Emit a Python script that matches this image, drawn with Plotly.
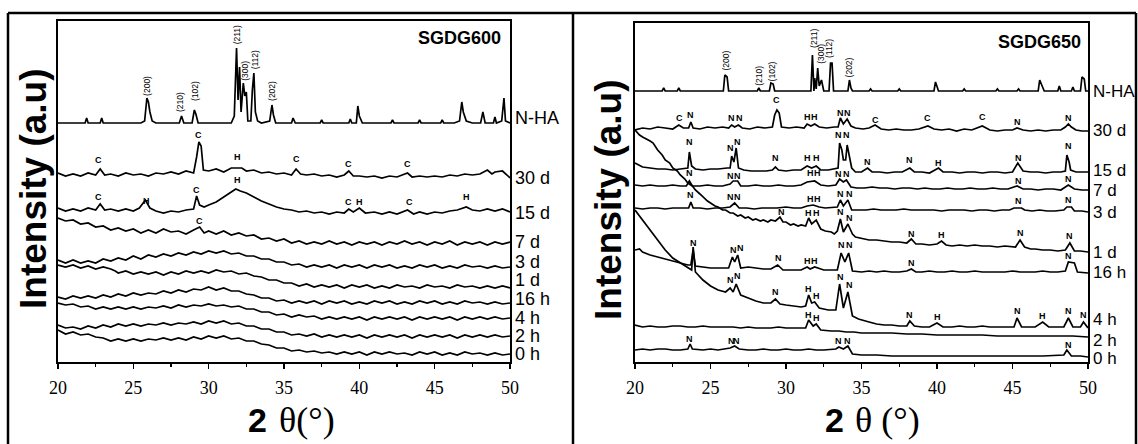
import plotly.graph_objects as go

W, H = 1138, 444

# ---------------- data: (2theta, intensity a.u.) ----------------
# SGDG600 panel
nha_600 = [(20,239),(20.5,239),(21,239),(21.5,239),(21.8,239),(21.9,244),(22.0,239),(22.5,239),(22.8,239),(22.9,244),(23.0,239),
           (23.5,239),(24,239),(24.5,239),(25,239),(25.5,239),(25.75,241),(25.9,264),(26.0,260),(26.1,250),(26.25,241),(26.5,239),
           (27,239),(27.5,239),(28.05,239),(28.2,246),(28.35,239),(28.9,239),(29.05,252),(29.15,248),(29.3,239),(29.5,239),(30,239),
           (30.5,239),(31,239),(31.5,239),(31.7,246),(31.85,314),(31.95,262),(32.05,295),(32.15,250),(32.3,279),(32.4,266),(32.5,270),
           (32.6,241),(32.8,241),(32.9,272),(33.0,289),(33.1,250),(33.25,241),(33.5,239),(34.05,241),(34.2,257),(34.3,247),(34.45,239),
           (35,239),(35.5,239),(35.6,244),(35.75,239),(36.5,239),(37.4,239),(37.5,242),(37.6,239),(38.5,239),(39.3,239),(39.4,243),
           (39.5,239),(39.8,239),(39.9,256),(40.0,246),(40.2,239),(41,239),(42.1,239),(42.2,242),(42.3,239),(43,239),(43.9,239),
           (44.0,242),(44.1,239),(45,239),(45.4,239),(45.5,242),(45.6,239),(46.3,239),(46.65,241),(46.8,260),(46.9,250),(47.1,241),
           (47.5,239),(48.05,239),(48.2,250),(48.35,239),(48.9,239),(49.0,245),(49.1,239),(49.45,241),(49.6,264),(49.7,241),(50,239)]
d30_600 = [(20,189),(20.5,186),(21,188),(21.5,186),(22,189),(22.5,187),(22.8,193),(23.1,187),(23.5,188),(24,186),(24.5,189),(25,187),
           (25.5,188),(26,186),(26.5,189),(27,188),(27.5,190),(28,188),(28.5,191),(29.0,189),(29.2,205),(29.35,220),(29.5,216),
           (29.65,192),(30,191),(30.5,193),(31,190),(31.5,194),(31.7,194),(32.2,194),(32.5,191),(33,192),(33.5,189),(34,190),
           (34.5,188),(35,189),(35.5,187),(35.8,193),(36.1,188),(36.5,187),(37,188),(37.5,186),(38,187),(38.5,185),(39,187),
           (39.3,191),(39.6,186),(40,186),(40.5,185),(41,186),(41.5,184),(42,186),(42.5,185),(43.2,189),(43.5,185),(44,186),
           (44.5,185),(45,186),(45.5,185),(46,187),(46.5,186),(47,188),(47.5,187),(48,188),(48.5,192),(48.8,188),(49,190),
           (49.5,191),(49.8,187),(50,184)]
d15_600 = [(20,154),(20.5,151),(21,153),(21.5,151),(22,154),(22.5,152),(22.8,158),(23.1,152),(23.5,153),(24,151),(24.5,153),(25,151),
           (25.4,154),(25.8,162),(26.1,154),(26.5,151),(27,149),(27.5,151),(28,150),(28.5,152),(29.0,153),(29.2,166),(29.4,157),
           (29.7,155),(30,157),(30.5,160),(31,165),(31.5,170),(31.8,173),(32.1,171),(32.5,169),(33,165),(33.5,161),(34,158),
           (34.5,155),(35,153),(35.5,152),(36,150),(36.5,151),(37,149),(37.5,150),(38,148),(38.5,150),(39,149),(39.3,153),
           (39.6,150),(40.0,154),(40.4,149),(41,150),(41.5,148),(42,150),(42.5,148),(43.2,152),(43.6,148),(44,150),(44.5,148),
           (45,150),(45.5,149),(46,151),(46.5,152),(47.1,155),(47.5,152),(48,151),(48.5,153),(49,151),(49.5,153),(50,150)]
d7_600 = [(20,144),(20.5,141),(21,142),(21.5,138),(22,139),(22.5,135),(23,136),(23.5,132),(24,134),(24.5,131),(25,133),(25.5,129),
          (26,132),(26.5,129),(27,133),(27.5,130),(28,131),(28.5,128),(29,132),(29.4,135),(29.7,129),(30,131),(30.5,128),(31,131),
          (31.5,127),(32,129),(32.5,126),(33,127),(33.5,123),(34,124),(34.5,121),(35,123),(35.5,119),(36,121),(36.5,118),(37,120),
          (37.5,118),(38,121),(38.5,118),(39,120),(39.5,117),(40,120),(40.5,118),(41,120),(41.5,117),(42,120),(42.5,118),(43,121),
          (43.5,118),(44,120),(44.5,117),(45,120),(45.5,118),(46,121),(46.5,117),(47,120),(47.5,118),(48,120),(48.5,117),(49,120),
          (49.5,118),(50,120)]
d3_600 = [(20,102),(20.5,99),(21,102),(21.5,99),(22,101),(22.5,99),(23,103),(23.5,101),(24,104),(24.5,102),(25,106),(25.5,103),
          (26,107),(26.5,105),(27,108),(27.5,106),(28,109),(28.5,107),(29,110),(29.5,108),(30,111),(30.5,109),(31,111),(31.5,108),
          (32,109),(32.5,106),(33,106),(33.5,103),(34,103),(34.5,100),(35,100),(35.5,97),(36,98),(36.5,95),(37,97),(37.5,95),
          (38,97),(38.5,94),(39,97),(39.5,95),(40,97),(40.5,94),(41,97),(41.5,95),(42,97),(42.5,94),(43,96),(43.5,94),(44,97),
          (44.5,95),(45,97),(45.5,94),(46,96),(46.5,94),(47,97),(47.5,95),(48,96),(48.5,94),(49,96),(49.5,94),(50,95)]
d1_600 = [(20,97),(20.5,95),(21,97),(21.5,94),(22,96),(22.5,93),(23,95),(23.5,93),(23.8,91),(24,89),(24.5,91),(25,88),(25.5,90),
          (26,88),(26.5,90),(27,87),(27.5,90),(28,88),(28.5,91),(29,89),(29.5,91),(30,89),(30.5,92),(31,90),(31.5,91),(32,88),
          (32.5,89),(33,86),(33.5,85),(34,82),(34.5,82),(35,79),(35.5,79),(36,76),(36.5,78),(37,75),(37.5,77),(38,75),(38.5,77),
          (39,74),(39.5,77),(40,75),(40.5,77),(41,74),(41.5,76),(42,74),(42.5,77),(43,75),(43.5,76),(44,74),(44.5,77),(45,75),
          (45.5,76),(46,74),(46.5,77),(47,75),(47.5,76),(48,74),(48.5,76),(49,74),(49.5,76),(50,74)]
h16_600 = [(20,65),(20.5,63),(21,66),(21.5,64),(22,66),(22.5,64),(23,67),(23.5,65),(24,68),(24.5,66),(25,69),(25.5,67),(26,69),
           (26.5,68),(27,71),(27.5,69),(28,72),(28.5,70),(29,73),(29.5,72),(30,75),(30.5,72),(31,74),(31.5,71),(32,71),(32.5,68),
           (33,67),(33.5,64),(34,64),(34.5,61),(35,62),(35.5,59),(36,61),(36.5,59),(37,61),(37.5,58),(38,61),(38.5,59),(39,61),
           (39.5,58),(40,60),(40.5,58),(41,61),(41.5,59),(42,61),(42.5,58),(43,60),(43.5,58),(44,61),(44.5,59),(45,61),(45.5,58),
           (46,60),(46.5,58),(47,61),(47.5,59),(48,60),(48.5,58),(49,60),(49.5,58),(50,59)]
h4_600 = [(20,59),(20.5,57),(21,58),(21.5,55),(22,56),(22.5,53),(23,55),(23.5,53),(24,55),(24.5,53),(25,55),(25.5,53),(26,55),
          (26.5,54),(27,56),(27.5,54),(28,57),(28.5,55),(29,57),(29.5,56),(30,58),(30.5,56),(31,57),(31.5,55),(32,56),(32.5,53),
          (33,53),(33.5,50),(34,50),(34.5,47),(35,48),(35.5,45),(36,47),(36.5,45),(37,46),(37.5,43),(38,45),(38.5,43),(39,45),
          (39.5,43),(40,45),(40.5,42),(41,45),(41.5,43),(42,45),(42.5,43),(43,45),(43.5,42),(44,45),(44.5,43),(45,45),(45.5,43),
          (46,45),(46.5,42),(47,45),(47.5,43),(48,45),(48.5,43),(49,45),(49.5,43),(50,44)]
h2_600 = [(20,37),(20.5,34),(21,35),(21.5,33),(22,36),(22.5,34),(23,37),(23.5,35),(24,38),(24.5,36),(25,38),(25.5,36),(26,38),
          (26.5,37),(27,39),(27.5,37),(28,39),(28.5,38),(29,40),(29.5,38),(30,41),(30.5,39),(31,41),(31.5,38),(32,39),(32.5,36),
          (33,36),(33.5,33),(34,33),(34.5,30),(35,30),(35.5,27),(36,28),(36.5,26),(37,28),(37.5,25),(38,27),(38.5,25),(39,27),
          (39.5,25),(40,27),(40.5,24),(41,27),(41.5,25),(42,27),(42.5,25),(43,27),(43.5,24),(44,27),(44.5,25),(45,27),(45.5,25),
          (46,27),(46.5,24),(47,27),(47.5,25),(48,27),(48.5,25),(49,27),(49.5,25),(50,26)]
h0_600 = [(20,32),(20.5,28),(21,30),(21.5,27),(22,28),(22.5,25),(23,24),(23.5,21),(24,23),(24.5,21),(25,23),(25.5,21),(26,23),
          (26.5,22),(27,24),(27.5,22),(28,24),(28.5,22),(29,25),(29.5,23),(30,26),(30.5,24),(31,26),(31.5,23),(32,24),(32.5,21),
          (33,21),(33.5,18),(34,17),(34.5,14),(35,14),(35.5,11),(36,12),(36.5,10),(37,11),(37.5,9),(38,10),(38.5,8),(39,10),
          (39.5,8),(40,10),(40.5,7),(41,10),(41.5,8),(42,10),(42.5,8),(43,9),(43.5,7),(44,10),(44.5,8),(45,10),(45.5,7),(46,9),
          (46.5,7),(47,10),(47.5,8),(48,9),(48.5,7),(49,9),(49.5,7),(50,8)]

# SGDG650 panel
nha_650 = [(20,271),(21.8,271),(21.9,274),(22.0,271),(22.8,271),(22.9,274),(23.0,271),(25.85,271),(25.95,287),(26.1,285),(26.2,271),
           (28.1,271),(28.2,274),(28.3,271),(28.9,271),(29.0,279),(29.15,278),(29.25,271),(31.65,271),(31.75,307),(31.85,271),
           (31.9,284),(32.0,273),(32.1,294),(32.2,276),(32.35,282),(32.5,271),(32.85,271),(32.95,299),(33.05,299),(33.15,271),
           (34.1,271),(34.2,282),(34.3,274),(34.4,271),(35.5,271),(35.6,273),(35.7,271),(37.4,271),(37.5,273),(37.6,271),(39.8,271),
           (39.9,280),(40.0,275),(40.1,271),(41.7,271),(41.8,273),(41.9,271),(43.9,271),(44.0,273),(44.1,271),(45.3,271),(45.4,273),
           (45.5,271),(46.7,271),(46.8,282),(46.95,276),(47.1,271),(48.0,271),(48.1,276),(48.2,271),(48.9,271),(49.0,275),(49.1,271),
           (49.5,271),(49.6,285),(49.75,283),(49.85,271),(50,271)]
d30_650 = [(20,232),(20.5,234),(21,233),(21.5,235),(22,234),(22.5,233),(22.9,237),(23.2,234),(23.55,234),(23.7,240),(23.85,234),
           (24.3,233),(24.8,235),(25.3,234),(25.8,235),(26.2,234),(26.4,237),(26.6,235),(26.85,237),(27.1,234),(27.6,233),(28.1,235),
           (28.6,234),(29.1,235),(29.25,247),(29.4,252),(29.55,249),(29.7,235),(30.2,234),(30.7,235),(31.2,234),(31.4,238),
           (31.65,236),(31.9,238),(32.2,235),(32.7,234),(33.2,235),(33.45,235),(33.6,244),(33.8,238),(34.05,243),(34.3,236),
           (34.6,234),(35.1,233),(35.5,234),(35.9,237),(36.3,233),(36.8,232),(37.3,233),(37.8,232),(38.3,232),(38.8,233),(39.4,236),
           (39.8,233),(40.3,232),(40.8,233),(41.3,231),(41.8,233),(42.3,232),(43.0,236),(43.5,232),(44,231),(44.5,232),(45.0,232),
           (45.3,234),(45.7,232),(46.2,231),(46.7,232),(47.2,231),(47.7,232),(48.2,232),(48.5,235),(48.7,238),(48.9,235),(49.2,232),
           (49.6,231),(50,231)]
d15_650 = [(20,199),(20.5,195),(21,194),(21.5,193),(22,193),(22.5,192),(23,193),(23.5,194),(23.6,210),(23.75,196),(24,193),(24.5,192),
           (25,193),(25.5,193),(26.1,194),(26.3,194),(26.4,206),(26.55,200),(26.7,214),(26.85,194),(27.2,192),(27.7,191),(28.2,191),
           (28.7,191),(29.1,192),(29.3,195),(29.5,192),(30,191),(30.5,192),(31,192),(31.4,196),(31.7,194),(32.0,196),(32.3,192),
           (32.8,192),(33.3,194),(33.45,194),(33.55,219),(33.7,212),(33.8,202),(33.95,202),(34.05,217),(34.2,204),(34.35,194),
           (34.6,190),(35,190),(35.4,194),(35.7,190),(36.2,190),(36.7,189),(37.2,190),(37.7,190),(38.2,194),(38.5,190),(39,190),
           (39.5,189),(40.1,194),(40.4,190),(41,190),(41.5,189),(42,190),(42.5,190),(43,189),(43.5,190),(44,190),(44.5,189),
           (45.0,190),(45.35,199),(45.7,191),(46.2,190),(46.7,190),(47.2,189),(47.7,190),(48.2,190),(48.5,191),(48.6,207),
           (48.75,200),(48.85,192),(49.2,190),(49.6,190),(50,190)]
d7_650 = [(20,177),(20.5,176),(21,177),(21.5,176),(22,176),(22.5,177),(23,176),(23.4,176),(23.6,181),(23.8,176),(24.3,176),(24.8,177),
          (25.3,176),(25.8,176),(26.3,178),(26.5,181),(26.8,181),(27,176),(27.5,176),(28,177),(28.5,176),(29,176),(29.5,177),(30,176),
          (30.5,176),(31,177),(31.4,180),(31.9,181),(32.3,177),(32.8,176),(33.3,177),(33.55,183),(33.8,180),(34.0,182),(34.3,175),
          (34.7,174),(35.2,174),(35.7,175),(36.2,174),(36.7,174),(37.2,173),(37.7,174),(38.2,174),(38.7,173),(39.2,174),(39.7,173),
          (40.2,173),(40.7,174),(41.2,173),(41.7,173),(42.2,174),(42.7,173),(43.2,173),(43.7,174),(44.2,173),(44.7,173),(45.3,176),
          (45.7,173),(46.2,173),(46.7,172),(47.2,173),(47.7,173),(48.2,172),(48.7,177),(49.1,173),(49.6,172),(50,172)]
d3_650 = [(20,154),(20.5,153),(21,154),(21.5,154),(22,153),(22.5,154),(23,154),(23.55,154),(23.7,160),(23.85,154),(24.3,154),(24.8,153),
          (25.3,154),(25.8,154),(26.3,155),(26.6,159),(26.9,154),(27.4,154),(27.9,153),(28.4,154),(28.9,154),(29.4,154),(30,155),
          (30.5,154),(31,154),(31.4,156),(31.8,157),(32.2,155),(32.6,154),(33.1,155),(33.4,155),(33.6,162),(33.8,156),(34.1,162),
          (34.35,152),(34.8,152),(35.3,152),(35.8,153),(36.3,152),(36.8,152),(37.3,152),(37.8,153),(38.3,152),(38.8,152),(39.3,152),
          (39.8,152),(40.3,151),(40.8,152),(41.3,152),(41.8,152),(42.3,151),(42.8,152),(43.3,152),(43.8,151),(44.3,152),(44.8,152),
          (45.1,154),(45.6,154),(45.8,152),(46.3,151),(46.8,152),(47.3,151),(47.8,151),(48.4,152),(48.6,155),(48.9,155),(49.1,151),
          (49.6,151),(50,150)]
d1_650 = [(20,232),(20.3,227),(20.5,225),(20.8,223),(21.0,221),(21.2,219),(21.5,212),(21.8,207),(22.0,202),(22.3,199),(22.5,194),
          (22.8,191),(23.0,187),(23.3,183),(23.5,179),(23.8,176),(24.0,172),(24.3,168),(24.5,165),(24.8,161),(25.0,159),(25.3,156),
          (25.5,155),(25.8,152),(26.0,152),(26.3,149),(26.5,149),(26.8,146),(27.0,147),(27.3,144),(27.5,145),(27.8,142),(28.0,143),
          (28.3,141),(28.5,142),(28.8,140),(29.0,142),(29.3,141),(29.6,145),(29.8,140),(30.0,140),(30.3,137),(30.5,138),(30.8,136),
          (31.0,137),(31.3,136),(31.5,144),(31.7,138),(32.0,142),(32.3,133),(32.6,131),(33.0,130),(33.2,128),(33.4,131),(33.6,143),
          (33.8,130),(34.1,138),(34.4,128),(34.6,125),(35.0,124),(35.5,122),(36.0,122),(36.5,121),(37.0,120),(37.5,120),(38.0,119),
          (38.3,123),(38.6,118),(39.0,118),(39.5,117),(40.0,118),(40.3,121),(40.6,117),(41,116),(41.5,117),(42,116),(42.5,117),(43,116),
          (43.5,116),(44,115),(44.5,116),(45.2,115),(45.5,122),(45.8,115),(46.2,113),(46.5,113),(47.0,112),(47.5,112),(48.0,111),
          (48.5,112),(48.8,119),(49.1,111),(49.5,111),(50,110)]
h16_650 = [(20,112),(20.3,113),(20.5,110),(21,107),(21.5,105),(22,103),(22.5,101),(23,99),(23.5,97),(23.7,97),(23.85,112),(24.0,96),
           (24.5,95),(25,94),(25.5,94),(26.2,94),(26.45,105),(26.6,100),(26.8,107),(27.0,94),(27.5,95),(28,94),(28.5,93),(29.0,93),
           (29.45,97),(29.8,92),(30.5,92),(31.0,92),(31.4,95),(31.6,93),(31.9,95),(32.5,92),(33.0,92),(33.4,92),(33.65,109),(33.9,100),
           (34.15,109),(34.4,91),(35,90),(35.5,91),(36,90),(36.5,91),(37,90),(37.5,90),(38.0,91),(38.3,93),(38.6,90),(39,90),(39.5,91),
           (40,90),(40.5,90),(41,91),(41.5,90),(42,90),(42.5,91),(43,90),(43.5,90),(44,90),(44.5,90),(45,91),(45.5,90),(46,90),
           (46.5,90),(47,91),(47.5,90),(48,90),(48.5,91),(48.7,100),(49.1,99),(49.3,90),(50,89)]
h4_650 = [(20,152),(20.5,142),(21.0,132),(21.5,122),(22.0,112),(22.5,104),(23.0,99),(23.5,94),(23.75,92),(23.85,115),(24.0,90),
          (24.5,82),(25.0,76),(25.5,72),(26.0,70),(26.3,74),(26.5,70),(26.7,78),(27.0,67),(27.5,64),(28.0,61),(28.5,59),(29.0,59),
          (29.3,63),(29.6,58),(30.0,57),(30.5,56),(31.0,55),(31.3,56),(31.5,67),(31.7,59),(31.9,60),(32.2,54),(32.8,52),(33.3,52),
          (33.55,78),(33.8,54),(34.1,70),(34.4,46),(34.8,43),(35.5,40),(36.0,38),(36.5,37),(37.0,37),(37.5,36),(38.0,36),(38.2,41),
          (38.5,36),(39.0,35),(39.5,35),(40.0,39),(40.4,35),(41,35),(41.5,36),(42,35),(42.5,35),(43,36),(43.5,35),(44,35),(44.5,35),
          (45.1,35),(45.3,44),(45.6,35),(46,35),(46.5,35),(47.0,40),(47.4,35),(47.9,35),(48.4,35),(48.7,44),(49.0,35),(49.5,35),
          (49.7,40),(50,34)]
h2_650 = [(20,37),(20.5,35),(21,36),(21.5,35),(22,35),(22.5,36),(23,36),(23.5,35),(24,35),(24.5,36),(25,35),(25.5,35),(26,35),
          (26.5,35),(27,34),(27.5,35),(28,34),(28.5,34),(29,34),(29.5,35),(30,34),(30.5,34),(31,34),(31.3,34),(31.5,42),(31.8,36),
          (32.0,38),(32.3,32),(33,31),(33.5,31),(34,30),(34.5,30),(35,29),(36,29),(37,29),(38,28),(39,28),(40,27),(41,27),(42,27),
          (43,27),(44,26),(45,26),(46,26),(47,26),(48,26),(49,26),(50,25)]
h0_650 = [(20,12),(20.5,13),(21,12),(21.5,13),(22,13),(22.5,12),(23,12),(23.5,13),(23.65,18),(23.8,13),(24.5,12),(25,13),(25.5,12),
          (26.3,14),(26.6,16),(26.9,13),(27.5,12),(28,12),(28.5,13),(29,12),(29.5,12),(30,13),(30.5,12),(31,12),(31.5,13),(32,12),
          (32.5,12),(33.3,13),(33.5,15),(33.8,13),(34.1,16),(34.4,8),(35,7),(35.5,7),(36,7),(37,6),(38,6),(39,6),(40,6),(41,6),(42,6),
          (43,6),(44,6),(45,6),(46,6),(47,6),(48.4,7),(48.6,12),(48.9,6),(49.5,6),(50,5)]

series_labels = ["N-HA", "30 d", "15 d", "7 d", "3 d", "1 d", "16 h", "4 h", "2 h", "0 h"]
left_series = [nha_600, d30_600, d15_600, d7_600, d3_600, d1_600, h16_600, h4_600, h2_600, h0_600]
right_series = [nha_650, d30_650, d15_650, d7_650, d3_650, d1_650, h16_650, h4_650, h2_650, h0_650]
left_label_level = [244, 184, 149, 120, 100, 82, 63, 44, 26, 8]
right_label_level = [271, 232, 192, 172, 150, 110, 90, 43, 22, 4]

miller = ["(200)", "(210)", "(102)", "(211)", "(300)", "(112)", "(202)"]
miller_left = [(25.9, 276), (28.1, 260), (29.1, 271), (31.9, 327), (32.4, 291), (33.1, 302), (34.2, 271)]
miller_right = [(26.0, 301), (28.2, 286), (29.1, 291), (31.85, 324), (32.3, 308), (32.85, 313), (34.2, 295)]

phase_left = [("C",22.7,202),("C",29.35,227),("H",31.9,205),("C",35.8,203),("C",39.3,198),("C",43.2,198),
              ("C",22.7,165),("H",25.9,161),("C",29.2,172),("H",31.9,182),("C",39.3,160),("H",40.0,160),("C",43.3,160),("H",47.1,165),
              ("C",29.4,141)]
phase_right = [("C",22.95,244),("N",23.7,247),("N",26.4,244),("N",26.9,244),("C",29.4,262),("H",31.4,245),("H",31.9,245),
               ("N",33.6,249),("N",34.1,249),("C",35.9,242),("C",39.4,244),("C",43.0,245),("N",45.3,240),("N",48.7,244),
               ("N",23.6,220),("N",26.3,214),("N",26.8,220),("N",29.3,204),("H",31.4,204),("H",32.0,204),("N",33.5,227),("N",34.0,227),
               ("N",35.4,200),("N",38.2,202),("H",40.1,199),("N",45.4,204),("N",48.7,216),
               ("N",23.6,189),("N",26.3,186),("N",26.8,186),("H",31.6,189),("H",32.1,189),("N",33.5,188),("N",34.0,188),
               ("N",45.4,181),("N",48.7,183),
               ("N",23.7,167),("N",26.3,165),("N",26.8,165),("H",31.6,163),("H",32.1,163),("N",33.6,168),("N",34.2,168),
               ("N",45.4,161),("N",48.7,162),
               ("N",29.7,150),("H",31.5,149),("H",32.0,149),("N",33.6,150),("N",34.2,144),("N",38.3,128),("H",40.3,127),
               ("N",45.5,129),("N",48.8,126),
               ("N",23.9,119),("N",26.5,112),("N",27.0,114),("N",29.5,104),("H",31.4,101),("H",31.9,101),("N",33.7,117),("N",34.2,117),
               ("N",38.3,99),("N",48.7,106),
               ("N",26.3,82),("N",26.8,86),("N",29.3,70),("H",31.5,73),("H",32.0,66),("N",33.6,85),("N",34.2,77),("N",38.2,47),
               ("H",40.0,45),("N",45.3,51),("H",47.0,46),("N",48.7,51),("N",49.7,47),
               ("H",31.5,47),("H",32.0,44),
               ("N",23.6,23),("N",26.4,21),("N",26.7,21),("N",33.5,21),("N",34.1,21),("N",48.7,17)]

# ---------------- figure ----------------
fig = go.Figure()
LINE = dict(color="black", width=1.7)
for pts in left_series:
    fig.add_trace(go.Scatter(x=[p[0] for p in pts], y=[p[1] for p in pts], mode="lines", line=LINE,
                             xaxis="x", yaxis="y", showlegend=False, hoverinfo="skip"))
for pts in right_series:
    fig.add_trace(go.Scatter(x=[p[0] for p in pts], y=[p[1] for p in pts], mode="lines", line=LINE,
                             xaxis="x2", yaxis="y2", showlegend=False, hoverinfo="skip"))

SANS = "Liberation Sans, Arial, sans-serif"
SERIF = "Liberation Serif, Times New Roman, serif"

def xax(domain, anchor):
    return dict(domain=domain, range=[20, 50], anchor=anchor, showline=True, linecolor="black", linewidth=2,
                mirror=True, ticks="outside", ticklen=5, tickwidth=1.5, tickcolor="black", tick0=20, dtick=5,
                minor=dict(dtick=2.5, ticks="outside", ticklen=3, tickwidth=1.2, tickcolor="black"),
                tickfont=dict(family=SERIF, size=18, color="black"), showgrid=False, zeroline=False,
                ticklabelstandoff=3)

def yax(domain, rng, anchor):
    return dict(domain=domain, range=rng, anchor=anchor, showline=True, linecolor="black", linewidth=2,
                mirror=True, ticks="", showticklabels=False, showgrid=False, zeroline=False)

def note(text, x, y, xref, yref, size, family=SANS, xanchor="center", angle=0):
    return dict(text=text, x=x, y=y, xref=xref, yref=yref, xanchor=xanchor, yanchor="middle",
                showarrow=False, textangle=angle, font=dict(family=family, size=size, color="black"))

ann = []
# series labels
for lab, lv in zip(series_labels, left_label_level):
    ann.append(note(lab, 513/W, lv, "paper", "y", 18, xanchor="left"))
for lab, lv in zip(series_labels, right_label_level):
    ann.append(note(lab, 1091/W, lv, "paper", "y2", 17, xanchor="left"))
# miller indices
for lab, (mx, my) in zip(miller, miller_left):
    ann.append(note(lab, mx, my, "x", "y", 8.5, angle=-90))
for lab, (mx, my) in zip(miller, miller_right):
    ann.append(note(lab, mx, my, "x2", "y2", 8.5, angle=-90))
# phase letters
for lab, px_, py_ in phase_left:
    ann.append(note("<b>%s</b>" % lab, px_, py_, "x", "y", 9))
for lab, px_, py_ in phase_right:
    ann.append(note("<b>%s</b>" % lab, px_, py_, "x2", "y2", 9))
# sample names
ann.append(note("<b>SGDG600</b>", 459/W, 1-38/H, "paper", "paper", 18))
ann.append(note("<b>SGDG650</b>", 1039/W, 1-42/H, "paper", "paper", 18))
# axis titles
for cx, cy in [(33, 189), (608, 200)]:
    ann.append(note("<b>Intensity (a.u)</b>", cx/W, 1-cy/H, "paper", "paper", 37, angle=-90))
ann.append(note("<b>2</b>", 257/W, 1-420/H, "paper", "paper", 34))
ann.append(note("θ(°)", 277/W, 1-420/H, "paper", "paper", 36, family=SERIF, xanchor="left"))
ann.append(note("<b>2</b>", 834/W, 1-420/H, "paper", "paper", 34))
ann.append(note("θ (°)", 853/W, 1-420/H, "paper", "paper", 36, family=SERIF, xanchor="left"))

# outer frame
frame = []
for (x0, y0, x1, y1) in [(8, 13, 1136, 13), (8, 13, 8, 444), (573, 13, 573, 444), (1136, 13, 1136, 444)]:
    frame.append(dict(type="line", xref="paper", yref="paper", x0=x0/W, y0=1-y0/H, x1=x1/W, y1=1-y1/H,
                      line=dict(color="black", width=2.5)))

fig.update_layout(
    width=W, height=H, margin=dict(l=0, r=0, t=0, b=0, autoexpand=False),
    paper_bgcolor="white", plot_bgcolor="white",
    xaxis=xax([58/W, 510/W], "y"),
    yaxis=yax([1-362/H, 1-21/H], [0, 341], "x"),
    xaxis2=xax([635/W, 1088/W], "y2"),
    yaxis2=yax([1-362/H, 1-23/H], [0, 339], "x2"),
    annotations=ann, shapes=frame,
)

fig.write_html("out.html", config={"displayModeBar": False, "staticPlot": True},
               post_script="document.body.style.margin='0px';document.body.style.overflow='hidden';")
